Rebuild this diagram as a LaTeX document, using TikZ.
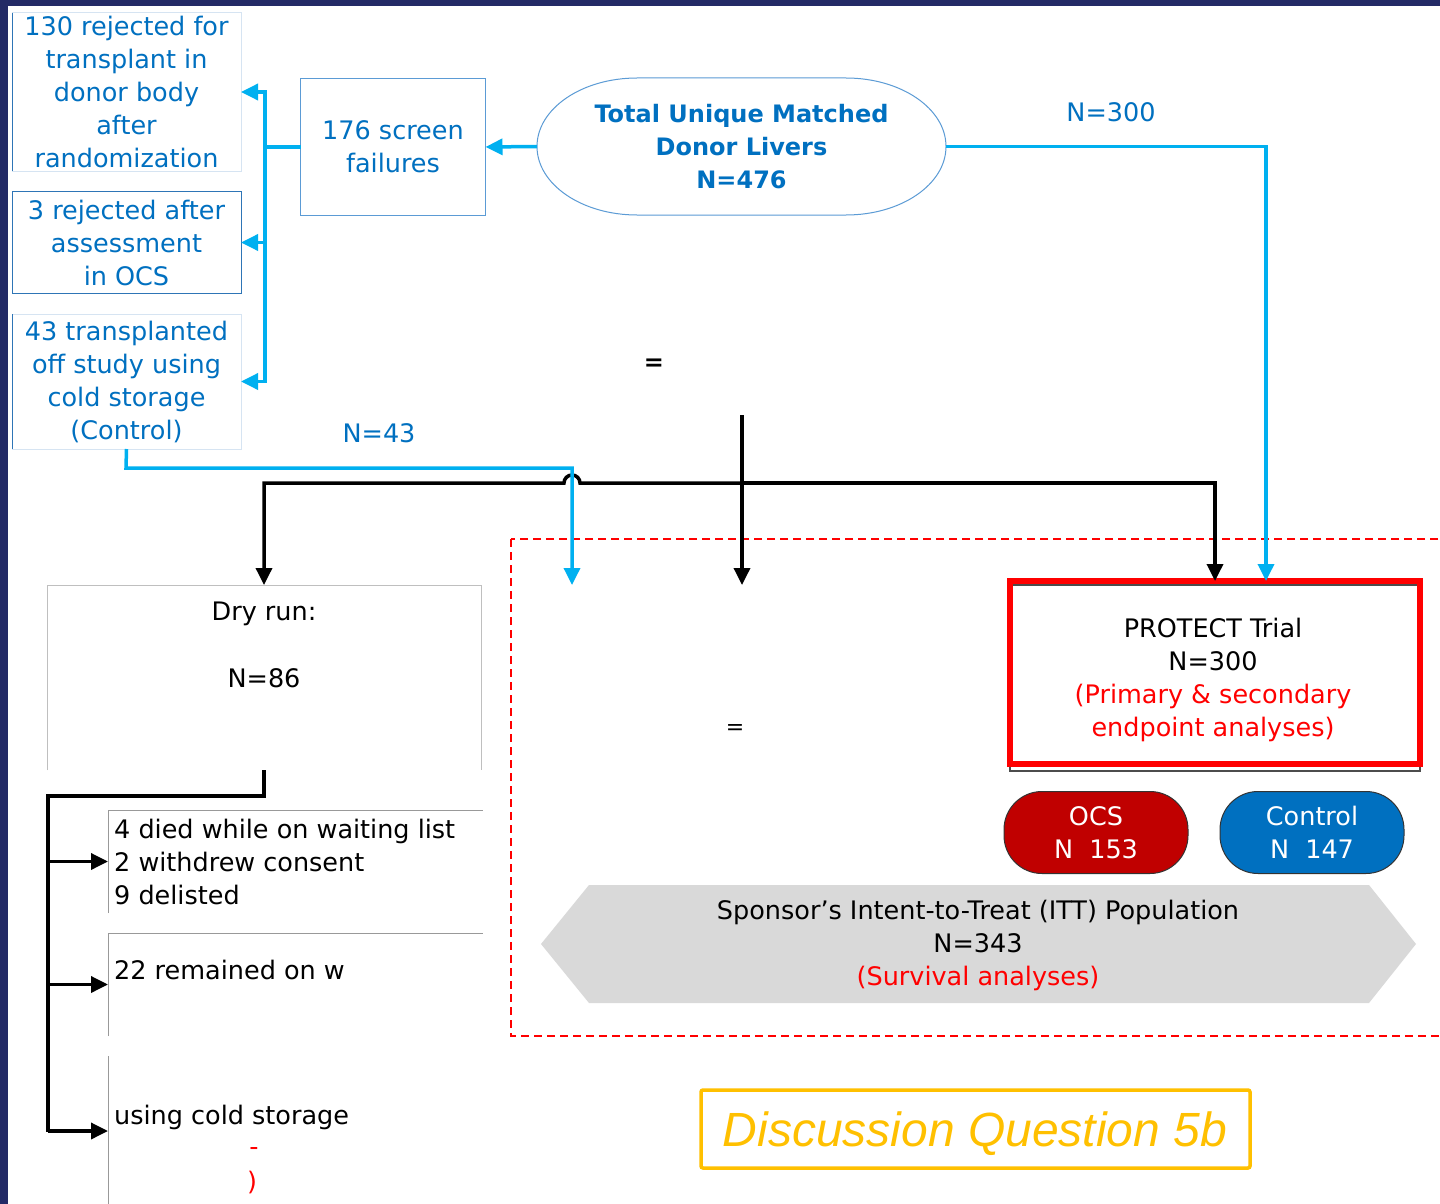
\documentclass[tikz,border=0pt]{standalone}
\usepackage{fontspec}
\setmainfont{DejaVu Sans}
\newfontfamily\arialfont{Liberation Sans}
\usetikzlibrary{arrows.meta,calc}

\definecolor{slidenavy}{HTML}{232A66}
\definecolor{flowcyan}{HTML}{00B0F0}
\definecolor{labelblue}{HTML}{0070C0}
\definecolor{edgeblue}{HTML}{2E75B6}
\definecolor{edgesoft}{HTML}{5B9BD5}
\definecolor{edgelight}{HTML}{D6E4F2}
\definecolor{edgegray}{HTML}{BFBFBF}
\definecolor{alertred}{HTML}{FF0000}
\definecolor{ocsfill}{HTML}{C00000}
\definecolor{ctrlfill}{HTML}{0070C0}
\definecolor{ittfill}{HTML}{D9D9D9}
\definecolor{quizgold}{HTML}{FFC000}

\newcommand\bodysize{\fontsize{25.5}{33}\selectfont}
\newcommand\headsize{\fontsize{24}{33}\selectfont}

\begin{document}
\begin{tikzpicture}[x=1pt,y=-1pt,
  txt/.style={font=\bodysize, inner sep=0pt, align=center},
  bluetxt/.style={txt, text=labelblue},
  boxnode/.style={txt, text=labelblue, minimum width=229, outer sep=0pt},
  cyanpath/.style={draw=flowcyan, line width=3.5pt},
  blkpath/.style={draw=black, line width=3.5pt},
  tip/.style={-{Triangle[length=17pt,width=16pt]}},
  pill/.style={txt, text=white, minimum width=184, minimum height=82,
    rounded corners=38pt, draw=black!80, line width=1pt}]

\useasboundingbox (0,0) rectangle (1440,1204);
\fill[white] (0,0) rectangle (1440,1204);
% slide frame
\fill[slidenavy] (0,0) rectangle (1440,6);
\fill[slidenavy] (0,0) rectangle (8,1204);

% ---------- top-left exclusion boxes ----------
\node[boxnode, minimum height=158, draw=edgelight, line width=1pt] (rejA) at (126.5,92)
  {130 rejected for\\transplant in\\donor body\\after\\randomization};
\draw[edgeblue, line width=1pt] (rejA.north west) -- (rejA.south west);

\node[boxnode, minimum height=102, draw=edgeblue, line width=1pt] (rejB) at (126.5,242.5)
  {3 rejected after\\assessment\\in OCS};

\node[boxnode, minimum height=135, draw=edgelight, line width=1pt] (offC) at (126.5,381.5)
  {43 transplanted\\off study using\\cold storage\\(Control)};
\draw[edgeblue, line width=1pt] (offC.north west) -- (offC.south west);

\node[boxnode, minimum width=185, minimum height=137, draw=edgesoft, line width=1.2pt] (scr) at (393,147)
  {176 screen\\failures};

% total matched livers (rounded capsule)
\node[txt, text=labelblue, font=\headsize\bfseries, minimum width=409, minimum height=137] (tot) at (741.5,146.5)
  {Total Unique Matched\\Donor Livers\\N=476};
\draw[edgesoft, line width=1pt] (637,78) -- (846,78)
  arc[start angle=-90, end angle=90, x radius=100, y radius=68.5]
  -- (637,215)
  arc[start angle=90, end angle=270, x radius=100, y radius=68.5] -- cycle;

\node[bluetxt] (n300) at (1111,112) {N=300};
\node[bluetxt] (n43) at (379,433) {N=43};

% ---------- central marks ----------
\node[txt, font=\fontsize{24}{30}\selectfont\bfseries] (eqA) at (654,365) {=};
\node[txt, font=\fontsize{22}{30}\selectfont] (eqB) at (735,729) {=};

% ---------- dry run column ----------
\node[txt, minimum width=434, minimum height=185, outer sep=0pt] (dry) at (264,677.5) {};
\draw[edgegray, line width=1pt] (dry.south west) -- (dry.north west) -- (dry.north east) -- (dry.south east);
\node[txt] (dryT) at (264,614) {Dry run:};
\node[txt] (dryN) at (264,678) {N=86};

\node[minimum width=375, minimum height=103, inner sep=0pt, outer sep=0pt] (fall) at (295.5,861.5) {};
\draw[edgegray!80!black, line width=1pt] (fall.south west) -- (fall.north west) -- (fall.north east);
\node[txt, align=left, anchor=west] (fallT) at (114,862)
  {4 died while on waiting list\\2 withdrew consent\\9 delisted};

\node[minimum width=375, minimum height=103, inner sep=0pt, outer sep=0pt] (wait) at (295.5,984.5) {};
\draw[edgegray!80!black, line width=1pt] (wait.south west) -- (wait.north west) -- (wait.north east);
\node[txt, anchor=west] (waitT) at (114,970) {22 remained on w};

\node[minimum width=375, minimum height=150, inner sep=0pt, outer sep=0pt] (cold) at (295.5,1131) {};
\draw[edgegray!80!black, line width=1pt] (cold.south west) -- (cold.north west);
\node[txt, anchor=west] (coldT) at (114,1117) {using cold storage};
\node[txt, text=alertred] (coldD) at (254,1151) {-};
\node[txt, text=alertred] (coldP) at (252,1182) {)};

% ---------- analysis populations ----------
\draw[alertred, line width=1.5pt, dash pattern=on 8pt off 5pt] (511,539) rectangle (1446,1036);

\draw[black!70, line width=1.2pt] (1010,585) rectangle (1420,771);
\node[minimum width=410, minimum height=183, draw=alertred, line width=6pt, outer sep=0pt, inner sep=0pt] (prot) at (1215,672.5) {};
\node[txt] (protT) at (1213,680)
  {PROTECT Trial\\N=300\\\textcolor{alertred}{(Primary \& secondary}\\\textcolor{alertred}{endpoint analyses)}};

\node[pill, fill=ocsfill] (ocs) at (1096,832.5) {OCS\\N\ \ 153};
\node[pill, fill=ctrlfill] (ctrl) at (1312,832.5) {Control\\N\ \ 147};

\node[minimum width=875, minimum height=118, inner sep=0pt] (itt) at (978.5,944) {};
\fill[ittfill] (541,944) -- (589,885) -- (1369,885) -- (1416,944) -- (1369,1003) -- (589,1003) -- cycle;
\node[txt] (ittT) at (978,945.5)
  {Sponsor’s Intent-to-Treat (ITT) Population\\N=343\\\textcolor{alertred}{(Survival analyses)}};

\node[draw=quizgold, line width=3.5pt, rounded corners=2pt, minimum width=549, minimum height=78,
  inner sep=0pt] (quiz) at (975.5,1129) {};
\node[inner sep=0pt, text=quizgold, font=\arialfont\itshape\fontsize{48}{56}\selectfont] (quizT) at (975,1134)
  {Discussion Question 5b};

% ---------- connectors ----------
% top-left: screening
\draw[cyanpath, tip] (tot.west) -- (scr.east);
\coordinate (bus) at (265,147);
\draw[cyanpath] (scr.west) -- (bus);
\draw[cyanpath, tip] (bus) |- (rejA.east);
\draw[cyanpath, tip] (bus) |- (offC.east);
\draw[cyanpath, tip] (bus |- rejB.east) -- (rejB.east);

% black allocation tree with a hop over the cyan line
\coordinate (blksrc) at (742,415);
\coordinate (blkjn) at (742,483);
\coordinate (blkend) at (742,585);
\draw[blkpath, tip] (blksrc) -- (blkend);
\draw[blkpath, tip] (blkjn) -- (580,483) arc[start angle=0, end angle=-180, radius=8] -- (264,483) -- (dry.north);
\draw[blkpath, tip] (blkjn) -| (prot.north);

% N=300 and N=43 branches
\draw[cyanpath, tip] (tot.east) -| ([xshift=51pt]prot.north);
\coordinate (cyanend) at (572,585);
\draw[cyanpath, tip] (offC.south) -- (126,468) -| (cyanend);

% dry run outcomes
\coordinate (drytrunk) at (48,796);
\draw[draw=black, line width=4.5pt] (dry.south) -- (264,796) -- (drytrunk) -- (48,1132);
\draw[blkpath, tip] (48,861.5) -- (fall.west);
\draw[blkpath, tip] (48,984.5) -- (wait.west);
\draw[blkpath, tip] (48,1131) -- (cold.west);

\end{tikzpicture}
\end{document}
